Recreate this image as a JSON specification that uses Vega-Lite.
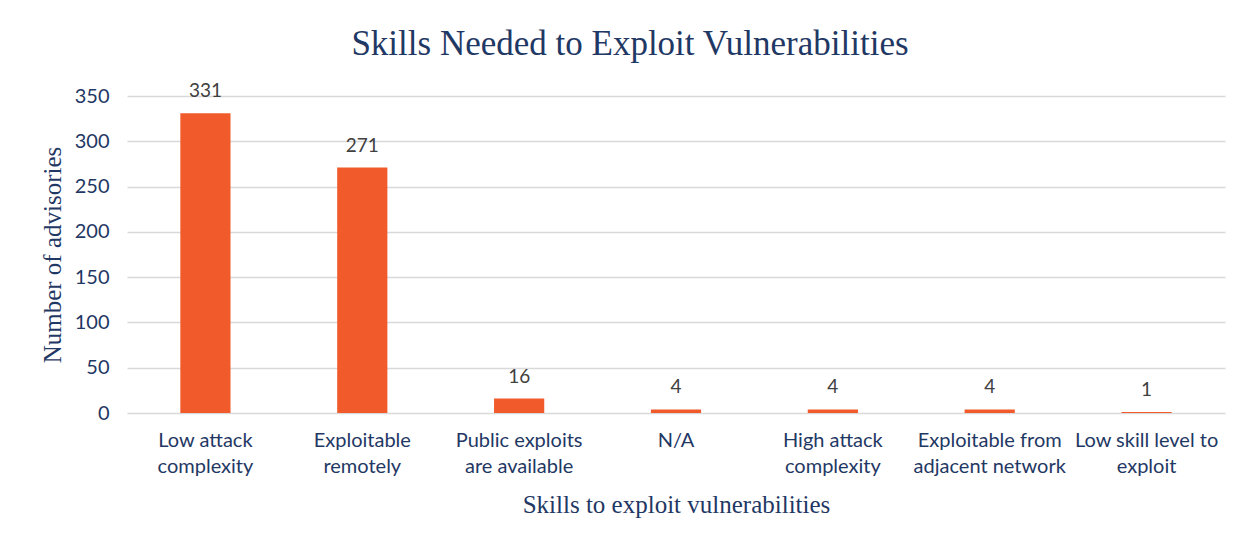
{
  "$schema": "https://vega.github.io/schema/vega-lite/v6.json",
  "width": 1098,
  "height": 317,
  "autosize": {"type": "none"},
  "padding": {"left": 127, "top": 96, "right": 23, "bottom": 128},
  "background": "white",
  "title": {
    "text": "Skills Needed to Exploit Vulnerabilities",
    "font": "Liberation Serif",
    "fontSize": 35,
    "fontWeight": "normal",
    "color": "#1F3864",
    "anchor": "middle",
    "dx": -46,
    "offset": 20
  },
  "data": {
    "values": [
      {"skill": "Low attack complexity", "count": 331},
      {"skill": "Exploitable remotely", "count": 271},
      {"skill": "Public exploits are available", "count": 16},
      {"skill": "N/A", "count": 4},
      {"skill": "High attack complexity", "count": 4},
      {"skill": "Exploitable from adjacent network", "count": 4},
      {"skill": "Low skill level to exploit", "count": 1}
    ]
  },
  "encoding": {
    "x": {
      "field": "skill",
      "type": "nominal",
      "sort": null,
      "scale": {"paddingInner": 0.68, "paddingOuter": 0.34},
      "axis": {
        "title": "Skills to exploit vulnerabilities",
        "titleFont": "Liberation Serif",
        "titleFontSize": 25,
        "titleFontWeight": "normal",
        "titleColor": "#1F3864",
        "titlePadding": 16,
        "labelAngle": 0,
        "labelFont": "Lato",
        "labelFontSize": 20,
        "labelColor": "#1F3864",
        "labelPadding": 17,
        "labelLineHeight": 26,
        "labelLimit": 200,
        "ticks": false,
        "domain": false,
        "labelExpr": "datum.label == 'Low attack complexity' ? ['Low attack', 'complexity'] : datum.label == 'Exploitable remotely' ? ['Exploitable', 'remotely'] : datum.label == 'Public exploits are available' ? ['Public exploits', 'are available'] : datum.label == 'High attack complexity' ? ['High attack', 'complexity'] : datum.label == 'Exploitable from adjacent network' ? ['Exploitable from', 'adjacent network'] : datum.label == 'Low skill level to exploit' ? ['Low skill level to', 'exploit'] : datum.label"
      }
    },
    "y": {
      "field": "count",
      "type": "quantitative",
      "scale": {"domain": [0, 350]},
      "axis": {
        "title": "Number of advisories",
        "titleFont": "Liberation Serif",
        "titleFontSize": 25,
        "titleFontWeight": "normal",
        "titleColor": "#1F3864",
        "titlePadding": 9,
        "values": [0, 50, 100, 150, 200, 250, 300, 350],
        "labelFont": "Lato",
        "labelFontSize": 20,
        "labelColor": "#1F3864",
        "labelPadding": 18,
        "ticks": false,
        "domain": false,
        "gridColor": "#D9D9D9",
        "gridWidth": 1.5
      }
    }
  },
  "layer": [
    {"mark": {"type": "bar", "color": "#F15A2B"}},
    {
      "mark": {
        "type": "text",
        "font": "Lato",
        "fontSize": 19,
        "color": "#404040",
        "baseline": "alphabetic",
        "dy": -16
      },
      "encoding": {"text": {"field": "count", "type": "quantitative"}}
    }
  ],
  "config": {"view": {"stroke": null}}
}
